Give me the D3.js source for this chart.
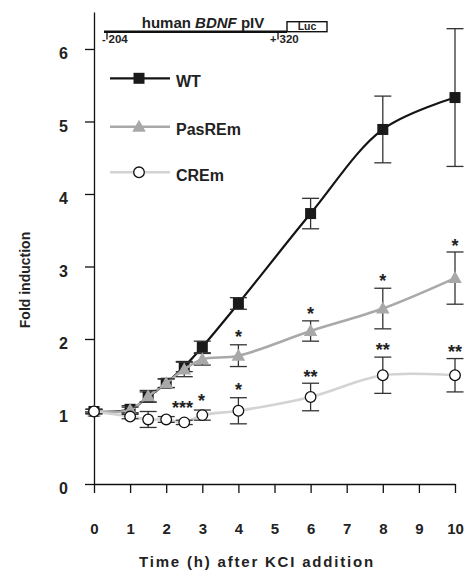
<!DOCTYPE html>
<html>
<head>
<meta charset="utf-8">
<script src="https://cdn.jsdelivr.net/npm/d3@7"></script>
<style>
  body { margin: 0; background: #fff; }
  text { font-family: "Liberation Sans", Arial, sans-serif; font-weight: bold; fill: #222; }
</style>
</head>
<body>
<div id="plot"></div>
<script>
const w = 466
const h = 571

// Time points (h) after KCI addition
const times = [0, 1, 1.5, 2, 2.5, 3, 4, 6, 8, 10]

// Fold induction, mean and error
const wtValues      = [1.00, 1.03, 1.20, 1.39, 1.62, 1.89, 2.49, 3.73, 4.89, 5.33]
const wtErrors      = [0.03, 0.05, 0.07, 0.06, 0.07, 0.08, 0.08, 0.21, 0.46, 0.95]
const pasremValues  = [1.00, 1.02, 1.21, 1.39, 1.58, 1.72, 1.77, 2.11, 2.42, 2.84]
const pasremErrors  = [0.03, 0.04, 0.08, 0.06, 0.10, 0.08, 0.15, 0.14, 0.28, 0.36]
const cremValues    = [1.00, 0.93, 0.89, 0.89, 0.85, 0.95, 1.01, 1.20, 1.50, 1.50]
const cremErrors    = [0.03, 0.03, 0.11, 0.04, 0.03, 0.07, 0.18, 0.19, 0.25, 0.23]

// Significance marks: time, fold value of mark centre, label
const starTimes  = [4, 6, 8, 10, 4, 6, 8, 10, 2.45, 2.98]
const starValues = [2.08, 2.40, 2.86, 3.34, 1.35, 1.53, 1.90, 1.88, 1.11, 1.20]
const starLabels = ["*", "*", "*", "*", "*", "**", "**", "**", "***", "*"]

const xTicks = [0, 1, 2, 3, 4, 5, 6, 7, 8, 9, 10]
const yTicks = [0, 1, 2, 3, 4, 5, 6]

const svg = d3.select("#plot")
              .append("svg")
                .attr("width", w)
                .attr("height", h)

// --- Scales ---
const xScale = d3.scaleLinear().domain([0, 10]).range([94, 455])
const yScale = d3.scaleLinear().domain([0, 6.51]).range([484, 12])

// --- Axes ---
const yAxis = svg.append("g")
                 .attr("transform", "translate(94,0)")
                 .call(d3.axisLeft(yScale).tickValues(yTicks).tickFormat(d3.format("d"))
                         .tickSize(9).tickSizeOuter(0).tickPadding(17))
yAxis.select(".domain").attr("stroke", "#111").attr("stroke-width", 1.3)
yAxis.selectAll(".tick line").attr("stroke", "#111").attr("stroke-width", 1.3)
yAxis.selectAll(".tick text").attr("font-size", 16).attr("dy", "0.62em").attr("fill", "#222")

const xAxis = svg.append("g")
                 .attr("transform", "translate(0,484)")
                 .call(d3.axisBottom(xScale).tickValues(xTicks).tickFormat(d3.format("d"))
                         .tickSize(9).tickSizeOuter(0).tickPadding(30))
xAxis.select(".domain").attr("stroke", "#111").attr("stroke-width", 1.3)
xAxis.selectAll(".tick line").attr("stroke", "#111").attr("stroke-width", 1.3)
xAxis.selectAll(".tick text").attr("font-size", 15).attr("fill", "#222")
// let the css font apply to tick labels
d3.selectAll(".tick text").attr("font-family", null).attr("font-weight", "bold")
svg.selectAll("g[font-family]").attr("font-family", null)

svg.append("text")
   .attr("x", 257).attr("y", 567)
   .attr("text-anchor", "middle")
   .attr("font-size", 15)
   .attr("letter-spacing", 1.8)
   .text("Time (h) after KCI addition")

svg.append("text")
   .attr("transform", "translate(30,280) rotate(-90)")
   .attr("text-anchor", "middle")
   .attr("font-size", 14)
   .text("Fold induction")

// --- Series ---
const series = [
  { name: "WT",     values: wtValues,     errors: wtErrors,     line: "#141414", width: 2.2, marker: "square" },
  { name: "PasREm", values: pasremValues, errors: pasremErrors, line: "#a9a9a9", width: 2.6, marker: "triangle" },
  { name: "CREm",   values: cremValues,   errors: cremErrors,   line: "#d3d3d3", width: 2.6, marker: "circle" }
]

const lineGen = d3.line()
                  .x(d => xScale(d[0]))
                  .y(d => yScale(d[1]))
                  .curve(d3.curveCatmullRom.alpha(0.5))

const drawMarker = (g, type, x, y) => {
  if (type === "square") {
    g.append("rect").attr("x", x - 5.5).attr("y", y - 5.5).attr("width", 11).attr("height", 11)
     .attr("fill", "#1a1a1a")
  } else if (type === "triangle") {
    g.append("path").attr("d", `M${x},${y - 7} L${x + 6.8},${y + 5} L${x - 6.8},${y + 5} Z`)
     .attr("fill", "#a8a8a8")
  } else {
    g.append("circle").attr("cx", x).attr("cy", y).attr("r", 5.3)
     .attr("fill", "#fff").attr("stroke", "#111").attr("stroke-width", 1.3)
  }
}

series.forEach(s => {
  const g = svg.append("g")
  const pts = times.map((t, i) => [t, s.values[i], s.errors[i]])

  g.append("path")
   .attr("d", lineGen(pts))
   .attr("fill", "none")
   .attr("stroke", s.line)
   .attr("stroke-width", s.width)

  // error bars
  pts.forEach(p => {
    const x = xScale(p[0])
    const yTop = yScale(p[1] + p[2])
    const yBot = yScale(p[1] - p[2])
    g.append("line").attr("x1", x).attr("x2", x).attr("y1", yTop).attr("y2", yBot)
     .attr("stroke", "#333").attr("stroke-width", 1.3)
    ;[yTop, yBot].forEach(yy => {
      g.append("line").attr("x1", x - 8.5).attr("x2", x + 8.5).attr("y1", yy).attr("y2", yy)
       .attr("stroke", "#333").attr("stroke-width", 1.3)
    })
  })

  pts.forEach(p => drawMarker(g, s.marker, xScale(p[0]), yScale(p[1])))
})

// significance stars
svg.append("g")
   .selectAll("text")
   .data(starLabels)
   .join("text")
     .attr("x", (d, i) => xScale(starTimes[i]))
     .attr("y", (d, i) => yScale(starValues[i]) + 10)
     .attr("text-anchor", "middle")
     .attr("font-size", 18)
     .attr("fill", "#333")
     .text(d => d)

// --- Legend ---
const legend = svg.append("g")
const legendY = [78.3, 126.7, 172.3]
series.forEach((s, i) => {
  legend.append("line")
        .attr("x1", 110).attr("x2", 170).attr("y1", legendY[i]).attr("y2", legendY[i])
        .attr("stroke", s.line).attr("stroke-width", s.width)
  drawMarker(legend, s.marker, 139, legendY[i])
  legend.append("text")
        .attr("x", 176).attr("y", legendY[i] + 8.4)
        .attr("font-size", 16)
        .text(s.name)
})

// --- Promoter construct (human BDNF pIV) ---
const construct = svg.append("g")
construct.append("line").attr("x1", 104).attr("x2", 287).attr("y1", 31.7).attr("y2", 31.7)
         .attr("stroke", "#111").attr("stroke-width", 2.6)
construct.append("rect").attr("x", 287).attr("y", 21.7).attr("width", 40).attr("height", 10)
         .attr("fill", "#fff").attr("stroke", "#111").attr("stroke-width", 1.4)
construct.append("text").attr("x", 307).attr("y", 30.2).attr("text-anchor", "middle")
         .attr("font-size", 10.5).text("Luc")
const title = construct.append("text").attr("x", 203).attr("y", 28).attr("text-anchor", "middle")
                       .attr("font-size", 15)
title.append("tspan").text("human ")
title.append("tspan").attr("font-style", "italic").text("BDNF")
title.append("tspan").text(" pIV")

construct.append("line").attr("x1", 107).attr("x2", 107).attr("y1", 31.7).attr("y2", 39.5)
         .attr("stroke", "#111").attr("stroke-width", 1.3)
construct.append("line").attr("x1", 278).attr("x2", 278).attr("y1", 31.7).attr("y2", 39.5)
         .attr("stroke", "#111").attr("stroke-width", 1.3)
construct.append("text").attr("x", 102).attr("y", 43.3).attr("font-size", 11).text("-")
construct.append("text").attr("x", 108.5).attr("y", 43.3).attr("font-size", 11.5).text("204")
construct.append("text").attr("x", 270).attr("y", 43.3).attr("font-size", 11).text("+")
construct.append("text").attr("x", 279.5).attr("y", 43.3).attr("font-size", 11.5).text("320")
</script>
</body>
</html>
